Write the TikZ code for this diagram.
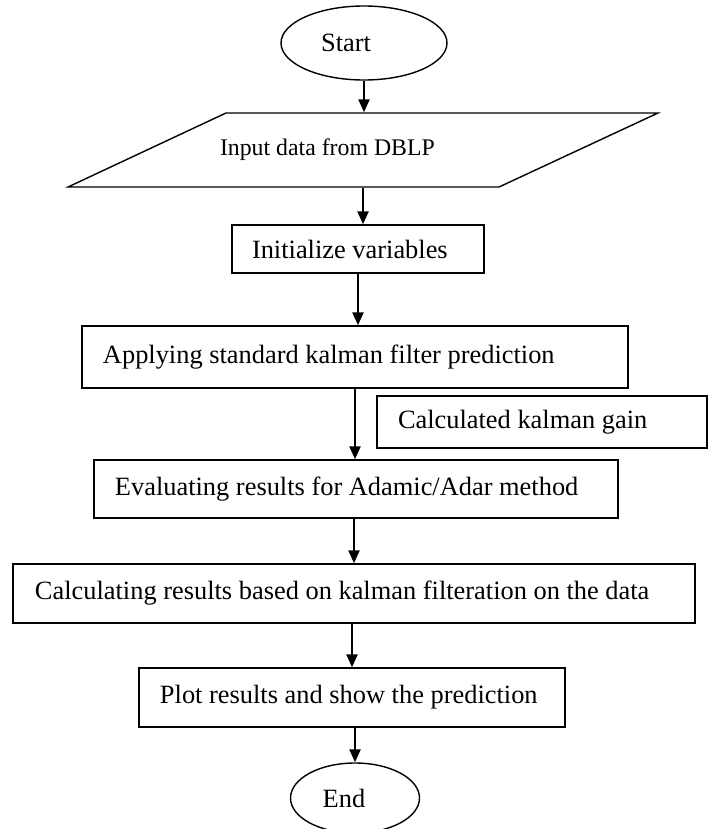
\documentclass[tikz,border=0pt]{standalone}
\usepackage{fontspec}
\setmainfont{Liberation Serif}
\usetikzlibrary{shapes.geometric,arrows.meta}
\begin{document}
\begin{tikzpicture}[x=1bp,y=-1bp,
  txt/.style={font=\fontsize{26.4bp}{30bp}\selectfont},
  box/.style={draw,line width=1.4bp,rectangle,inner ysep=0pt,txt},
  flow/.style={line width=2.3bp,-{Triangle[length=13bp,width=11bp]}},
  term/.style={draw,ellipse,line width=1.4bp,inner sep=0pt}]
\useasboundingbox (0,0) rectangle (710,829);
\clip (0,0) rectangle (710,829);
% terminals
\node[term, minimum width=166bp, minimum height=74bp,
      label={[txt,inner sep=0pt,xshift=-18bp]center:Start}] (start) at (364,43) {};
\node[term, minimum width=129bp, minimum height=70bp,
      label={[txt,inner sep=0pt,xshift=-11bp]center:End}] (end) at (355,798) {};
% input parallelogram
\node[box, draw=none, minimum height=74bp, inner xsep=7bp,
      font=\fontsize{23.8bp}{28bp}\selectfont] (input) at (363,150)
      {\raisebox{-3bp}{\makebox[286bp][l]{Input data from DBLP}}};
\draw[line width=1.4bp, line join=miter] (68,187) -- (226,113) -- (658,113) -- (499,187) -- cycle;
% process boxes
\node[box, minimum height=48bp, inner xsep=20bp] (init) at (358,249)
      {\makebox[212bp][l]{Initialize variables}};
\node[box, minimum height=62bp, inner xsep=21bp] (apply) at (355,357)
      {\makebox[504bp][l]{Applying standard kalman filter prediction}};
\node[box, minimum height=52bp, inner xsep=21bp] (gain) at (542,422)
      {\makebox[288bp][l]{Calculated kalman gain}};
\node[box, minimum height=58bp, inner xsep=21bp] (eval) at (356,489)
      {\makebox[482bp][l]{Evaluating results for Adamic/Adar method}};
\node[box, minimum height=59bp, inner xsep=22bp] (calc) at (354,593.5)
      {\makebox[638bp][l]{Calculating results based on kalman filteration on the data}};
\node[box, minimum height=59bp, inner xsep=21bp] (plot) at (352,697.5)
      {\makebox[384bp][l]{Plot results and show the prediction}};
% connectors
\draw[flow] (start.south) -- (start.south |- input.north);
\draw[flow] (input.south) -- (input.south |- init.north);
\draw[flow] (init.south) -- (init.south |- apply.north);
\draw[flow] (apply.south) -- (apply.south |- eval.north);
\draw[flow] (calc.north |- eval.south) -- (calc.north);
\draw[flow] (plot.north |- calc.south) -- (plot.north);
\draw[flow] (end.north |- plot.south) -- (end.north);
\end{tikzpicture}
\end{document}
